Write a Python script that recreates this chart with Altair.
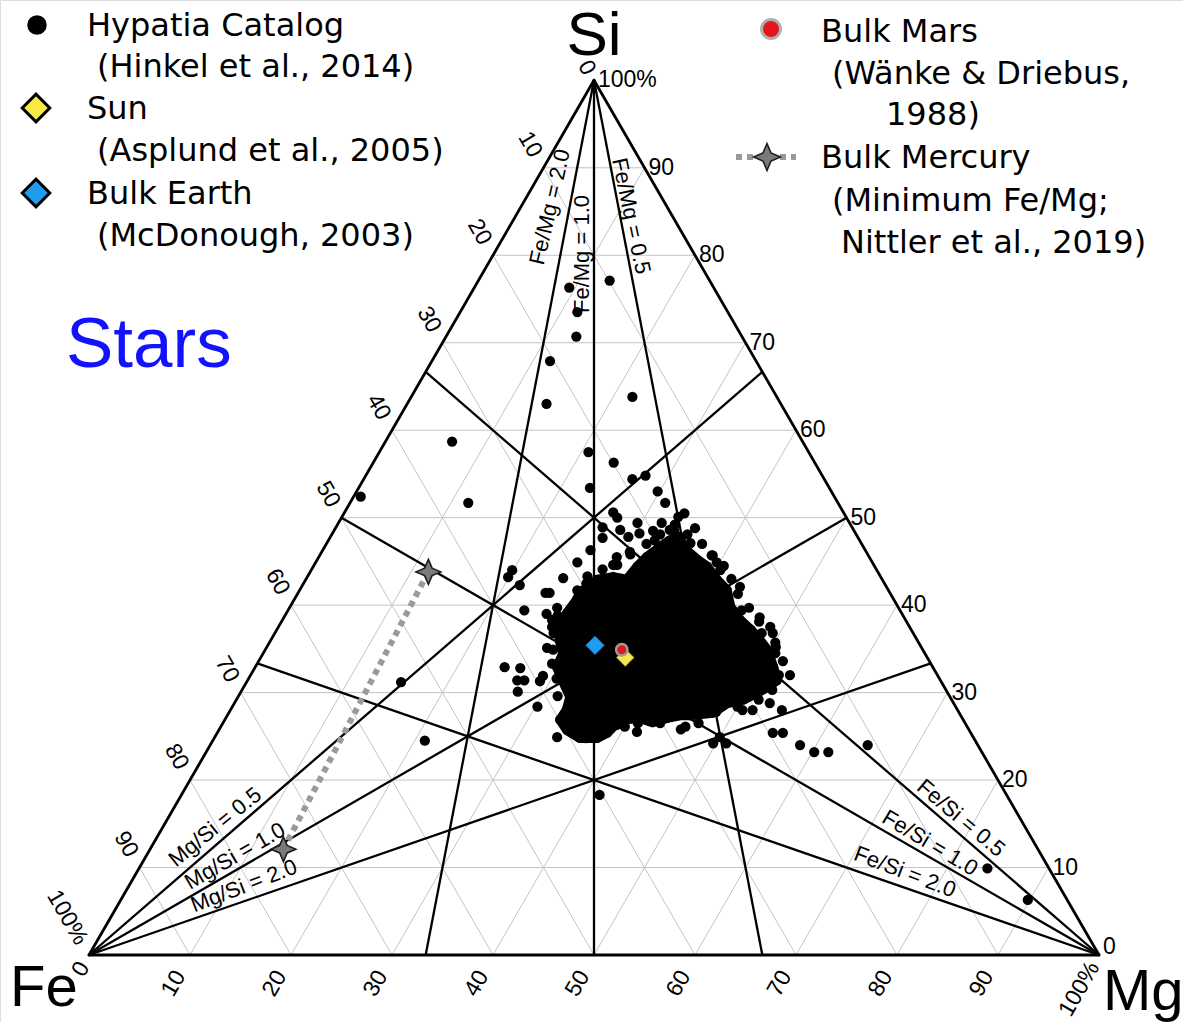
import altair as alt
import pandas as pd
import numpy as np

# ---------------- data (molar %, Fe = 100 - Mg - Si) ----------------
# Hypatia Catalog stars
hyp_mg = [9.4, 13.0, 11.6, 12.9, 11.7, 13.8, 21.9, 6.6, 0.7, 11.7, 20.7, 22.9, 15.3, 21.0, 41.4, 65.1, 84.0, 89.8, 58.4, 60.2, 61.6,
          23.8, 26.6, 27.7, 29.8, 31.2, 33.3, 33.7, 26.6, 27.3, 26.4, 27.0, 28.3, 29.5, 29.6, 30.4, 31.6, 32.3, 33.2,
          26.5, 29.5, 29.6, 30.5, 25.9, 19.9, 19.9, 21.5, 25.4, 24.5, 24.9, 28.0, 23.4, 26.5, 28.4, 26.7, 27.1,
          24.7, 26.3, 26.7, 27.4, 29.0, 29.0, 27.4, 28.5, 30.2, 33.9, 40.0, 41.5, 46.0, 49.7, 50.0, 51.0, 50.7,
          51.7, 53.0, 54.6, 55.0, 56.0, 36.0, 38.8, 39.7, 40.5, 43.4, 44.9, 47.1, 48.7, 48.2, 50.1, 50.7, 53.4,
          28.0, 27.0, 25.8, 27.6, 27.8, 29.2, 30.5, 31.6, 33.5, 34.9, 36.8, 38.2, 39.1, 41.1, 43.3, 45.7, 47.1,
          48.2, 50.0, 51.7, 52.5, 52.3, 51.9, 50.4, 49.3, 47.3, 45.5, 43.6, 42.1, 40.6, 38.9, 37.2, 35.2, 33.7,
          32.5, 31.7, 30.7, 30.0, 28.8, 27.7, 27.5, 32.0, 33.4, 35.6]
hyp_si = [76.3, 77.1, 73.5, 70.7, 67.9, 63.0, 63.8, 58.7, 52.4, 51.7, 57.5, 53.4, 31.2, 24.5, 18.3, 24.0, 9.9, 6.3, 24.0, 23.2, 23.2,
          56.3, 54.4, 54.8, 53.0, 51.7, 50.1, 50.5, 50.6, 50.0, 48.9, 47.7, 48.6, 47.8, 49.4, 48.2, 48.5, 47.4, 48.6,
          46.3, 45.5, 44.6, 46.1, 44.9, 44.0, 43.2, 42.3, 43.1, 41.4, 41.4, 42.5, 39.4, 39.7, 39.1, 38.3, 37.5,
          32.9, 32.8, 31.4, 31.4, 31.3, 31.9, 30.1, 34.9, 28.4, 24.9, 26.1, 25.5, 26.1, 24.2, 24.9, 24.2, 28.0,
          28.0, 28.8, 28.0, 25.4, 25.4, 47.1, 45.7, 44.9, 44.0, 42.1, 39.4, 38.6, 37.5, 36.8, 35.7, 34.5, 32.0,
          40.0, 38.8, 39.0, 36.8, 35.1, 33.3, 31.6, 29.6, 27.2, 25.6, 24.8, 25.5, 26.3, 26.5, 26.5, 25.8, 26.5,
          27.8, 28.4, 29.2, 30.3, 32.0, 33.6, 35.2, 36.8, 38.1, 39.7, 41.3, 43.0, 44.5, 45.7, 47.0, 48.1, 48.5,
          48.1, 47.0, 45.8, 44.6, 44.1, 43.3, 41.7, 49.4, 49.2, 48.8]
# outline of the densely packed core of the Hypatia cloud
core_mg = [28.0, 27.9, 28.9, 30.3, 31.8, 32.1, 32.5, 33.2, 33.8, 34.6, 35.5, 37.6, 39.0, 40.7, 42.3, 43.6, 45.3, 46.9,
           48.4, 49.7, 51.3, 52.4, 51.8, 51.2, 50.2, 48.8, 47.9, 45.8, 44.8, 43.7, 42.5, 41.0, 39.1, 38.6, 37.9, 36.2,
           34.5, 33.2, 33.3, 32.9, 31.2, 29.9, 29.7, 28.6, 27.6, 27.8]
core_si = [40.6, 41.4, 42.9, 43.2, 42.9, 44.4, 45.5, 46.6, 47.4, 47.8, 46.6, 45.2, 44.4, 42.9, 41.7, 39.8, 38.3, 37.2,
           36.0, 34.9, 32.9, 31.4, 30.6, 30.0, 29.2, 28.8, 27.7, 27.4, 27.4, 27.1, 26.6, 27.1, 26.9, 25.4, 24.8, 24.8,
           25.7, 26.9, 28.0, 29.5, 31.4, 32.9, 34.5, 36.0, 38.0, 39.1]
sun_mg, sun_si = 36.1, 34.0
earth_mg, earth_si = 32.4, 35.4
mars_mg, mars_si = 35.3, 34.9
mercury_mg = [11.7, 13.2]
mercury_si = [43.8, 12.1]
ticks = [0, 10, 20, 30, 40, 50, 60, 70, 80, 90, 100]
ratios = [0.5, 1.0, 2.0]

# ---------------- geometry ----------------
W, H = 1183, 1022
OX, OY, K = 89.0, 955.0, 10.1   # Fe corner in pixels, pixels per %
R3 = np.sqrt(3) / 2


def tx(mg, si):
    return np.asarray(mg, dtype=float) + np.asarray(si, dtype=float) / 2


def ty(si):
    return np.asarray(si, dtype=float) * R3


def pdx(px):
    return (px - OX) / K


def pdy(py):
    return (OY - py) / K


xs = alt.Scale(domain=[pdx(0), pdx(W)], nice=False, zero=False)
ys = alt.Scale(domain=[pdy(H), pdy(0)], nice=False, zero=False)


def X(f="x"):
    return alt.X(f"{f}:Q", scale=xs, axis=None)


def Y(f="y"):
    return alt.Y(f"{f}:Q", scale=ys, axis=None)


def seg_rows(pairs):
    rows = []
    for (m1, s1), (m2, s2) in pairs:
        rows.append({"x": float(tx(m1, s1)), "y": float(ty(s1)), "x2": float(tx(m2, s2)), "y2": float(ty(s2))})
    return pd.DataFrame(rows)


# grid lines every 10 %
gpairs = []
for k in ticks[1:-1]:
    gpairs.append(((0, k), (100 - k, k)))          # Si = k
    gpairs.append(((k, 0), (k, 100 - k)))          # Mg = k
    gpairs.append(((100 - k, 0), (0, 100 - k)))    # Fe = k
grid_df = seg_rows(gpairs)

# ratio lines
rpairs = []
for r in ratios:
    rpairs.append(((0, 100), (100 / (1 + r), 0)))                    # Fe/Mg = r
    rpairs.append(((0, 0), (100 * r / (1 + r), 100 / (1 + r))))      # Mg/Si = r
    rpairs.append(((100, 0), (0, 100 / (1 + r))))                    # Fe/Si = r
ratio_df = seg_rows(rpairs)

edge_df = seg_rows([((0, 0), (100, 0)), ((0, 0), (0, 100)), ((100, 0), (0, 100))])

grid = alt.Chart(grid_df).mark_rule(color="#c4c4c4", strokeWidth=1).encode(
    x=X(), y=Y(), x2="x2:Q", y2="y2:Q")
ratio_lines = alt.Chart(ratio_df).mark_rule(color="black", strokeWidth=2.3).encode(
    x=X(), y=Y(), x2="x2:Q", y2="y2:Q")
edges = alt.Chart(edge_df).mark_rule(color="black", strokeWidth=2.8, strokeCap="round").encode(
    x=X(), y=Y(), x2="x2:Q", y2="y2:Q")

# Hypatia cloud
core_df = pd.DataFrame({"x": tx(core_mg, core_si), "y": ty(core_si), "i": range(len(core_mg))})
core_closed = pd.concat([core_df, core_df.iloc[[0]].assign(i=len(core_mg))], ignore_index=True)
core = alt.Chart(core_closed).mark_line(
    filled=True, fill="black", stroke="black", strokeWidth=10, strokeJoin="round", opacity=1
).encode(x=X(), y=Y(), order=alt.Order("i:Q"))
core_pts = alt.Chart(core_df).mark_circle(color="black", size=100, opacity=1).encode(x=X(), y=Y())
hyp_df = pd.DataFrame({"x": tx(hyp_mg, hyp_si), "y": ty(hyp_si)})
hyp = alt.Chart(hyp_df).mark_circle(color="black", size=105, opacity=1).encode(x=X(), y=Y())

STAR = "M0,-1L0.3,-0.3L1,0L0.3,0.3L0,1L-0.3,0.3L-1,0L-0.3,-0.3Z"

merc_df = pd.DataFrame({"x": tx(mercury_mg, mercury_si), "y": ty(mercury_si), "i": [0, 1]})
merc_line = alt.Chart(merc_df).mark_line(color="#9a9a9a", strokeWidth=6, strokeDash=[6, 5]).encode(
    x=X(), y=Y(), order=alt.Order("i:Q"))
merc_pts = alt.Chart(merc_df).mark_point(shape=STAR, size=620, filled=True, fill="#7a7a7a",
                                         stroke="#1e1e1e", strokeWidth=1.6, opacity=1).encode(x=X(), y=Y())

earth = alt.Chart(pd.DataFrame({"x": [float(tx(earth_mg, earth_si))], "y": [float(ty(earth_si))]})).mark_point(
    shape="diamond", size=340, filled=True, fill="#1f9cf0", stroke="#1f9cf0", strokeWidth=0.5, opacity=1
).encode(x=X(), y=Y())
sun = alt.Chart(pd.DataFrame({"x": [float(tx(sun_mg, sun_si))], "y": [float(ty(sun_si))]})).mark_point(
    shape="diamond", size=300, filled=True, fill="#f6e64a", stroke="#b9a830", strokeWidth=0.8, opacity=1
).encode(x=X(), y=Y())
mars = alt.Chart(pd.DataFrame({"x": [float(tx(mars_mg, mars_si))], "y": [float(ty(mars_si))]})).mark_point(
    shape="circle", size=130, filled=True, fill="#e4161c", stroke="#9c9c9c", strokeWidth=2.5, opacity=1
).encode(x=X(), y=Y())

# ---------------- tick labels ----------------
def lab(v):
    return "100%" if v == 100 else str(v)


left_rows, bottom_rows, right_rows = [], [], []
for v in ticks:
    ul = (8 if v == 0 else 14) / K            # gap between left edge and label
    ub = (10 if v in (0, 100) else 20) / K    # gap between bottom edge and label
    # left edge: Fe = v  (Mg = 0, Si = 100 - v)
    ex, ey = float(tx(0, 100 - v)), float(ty(100 - v))
    left_rows.append({"x": ex - 0.5 * ul, "y": ey + R3 * ul, "t": lab(v)})
    # bottom edge: Mg = v (Si = 0)
    bx, by = float(tx(v, 0)), 0.0
    bottom_rows.append({"x": bx - 0.5 * ub, "y": by - R3 * ub, "t": lab(v)})
    # right edge: Si = v (Fe = 0, Mg = 100 - v)
    rx, ry = float(tx(100 - v, v)), float(ty(v))
    right_rows.append({"x": rx + 4 / K, "y": ry + (8 / K if v == 0 else 0), "t": lab(v)})

tick_font = dict(font="Liberation Sans", fontSize=23, color="black")
left_lab = alt.Chart(pd.DataFrame(left_rows)).mark_text(
    angle=60, align="right", baseline="middle", **tick_font).encode(x=X(), y=Y(), text="t:N")
bottom_lab = alt.Chart(pd.DataFrame(bottom_rows)).mark_text(
    angle=300, align="right", baseline="middle", **tick_font).encode(x=X(), y=Y(), text="t:N")
right_lab = alt.Chart(pd.DataFrame(right_rows)).mark_text(
    angle=0, align="left", baseline="middle", **tick_font).encode(x=X(), y=Y(), text="t:N")

# ---------------- ratio line labels ----------------
rl = [("Fe/Mg = 2.0", 550, 207, 283), ("Fe/Mg = 1.0", 582, 254, 270), ("Fe/Mg = 0.5", 631, 216, 78),
      ("Mg/Si = 0.5", 215, 827, 321), ("Mg/Si = 1.0", 235, 856, 330), ("Mg/Si = 2.0", 244, 886, 339),
      ("Fe/Si = 0.5", 961, 818, 40), ("Fe/Si = 1.0", 930, 843, 31), ("Fe/Si = 2.0", 905, 872, 21)]
rl_df = pd.DataFrame([{"t": t, "x": pdx(a), "y": pdy(b), "ang": g} for t, a, b, g in rl])
ratio_lab = alt.Chart(rl_df).mark_text(font="Liberation Sans", fontSize=22, color="black",
                                       align="center", baseline="middle").encode(
    x=X(), y=Y(), text="t:N", angle=alt.Angle("ang:Q", scale=None))

# ---------------- legend & titles ----------------
leg_text = [("Hypatia Catalog", 87, 36), ("(Hinkel et al., 2014)", 97, 77), ("Sun", 87, 119),
            ("(Asplund et al., 2005)", 97, 161), ("Bulk Earth", 87, 204), ("(McDonough, 2003)", 97, 246),
            ("Bulk Mars", 821, 42), ("(Wänke & Driebus,", 832, 84), ("1988)", 886, 125),
            ("Bulk Mercury", 821, 168), ("(Minimum Fe/Mg;", 832, 211), ("Nittler et al., 2019)", 841, 253)]
leg_df = pd.DataFrame([{"t": t, "x": pdx(a), "y": pdy(b)} for t, a, b in leg_text])
legend_txt = alt.Chart(leg_df).mark_text(font="DejaVu Sans", fontSize=32, color="black",
                                         align="left", baseline="alphabetic").encode(x=X(), y=Y(), text="t:N")


def one(px, py):
    return pd.DataFrame({"x": [pdx(px)], "y": [pdy(py)]})


leg_hyp = alt.Chart(one(37, 25)).mark_circle(color="black", size=380, opacity=1).encode(x=X(), y=Y())
leg_sun = alt.Chart(one(36, 108)).mark_point(shape="diamond", size=760, filled=True, fill="#f7ea48",
                                             stroke="black", strokeWidth=3, opacity=1).encode(x=X(), y=Y())
leg_earth = alt.Chart(one(36, 193)).mark_point(shape="diamond", size=760, filled=True, fill="#1f9cf0",
                                               stroke="black", strokeWidth=3, opacity=1).encode(x=X(), y=Y())
leg_mars = alt.Chart(one(771, 29)).mark_point(shape="circle", size=360, filled=True, fill="#e4161c",
                                              stroke="#b0b0b0", strokeWidth=3, opacity=1).encode(x=X(), y=Y())
leg_mline = alt.Chart(pd.DataFrame({"x": [pdx(736)], "y": [pdy(157)], "x2": [pdx(796)], "y2": [pdy(157)]})).mark_rule(
    color="#9a9a9a", strokeWidth=6, strokeDash=[6, 5]).encode(x=X(), y=Y(), x2="x2:Q", y2="y2:Q")
leg_mstar = alt.Chart(one(767, 157)).mark_point(shape=STAR, size=720, filled=True, fill="#7a7a7a",
                                                stroke="#1e1e1e", strokeWidth=1.6, opacity=1).encode(x=X(), y=Y())

si_t = alt.Chart(one(594, 55).assign(t="Si")).mark_text(font="Liberation Sans", fontSize=62, color="black",
                                                        align="center", baseline="alphabetic").encode(x=X(), y=Y(), text="t:N")
fe_t = alt.Chart(one(10, 1006).assign(t="Fe")).mark_text(font="Liberation Sans", fontSize=58, color="black",
                                                         align="left", baseline="alphabetic").encode(x=X(), y=Y(), text="t:N")
mg_t = alt.Chart(one(1103, 1010).assign(t="Mg")).mark_text(font="Liberation Sans", fontSize=58, color="black",
                                                           align="left", baseline="alphabetic").encode(x=X(), y=Y(), text="t:N")
stars_t = alt.Chart(one(66, 367).assign(t="Stars")).mark_text(font="Liberation Sans", fontSize=71, color="#1212ff",
                                                              align="left", baseline="alphabetic").encode(x=X(), y=Y(), text="t:N")

chart = alt.layer(
    grid, ratio_lines, edges, core, core_pts, hyp, merc_line, merc_pts, earth, sun, mars,
    left_lab, bottom_lab, right_lab, ratio_lab,
    legend_txt, leg_hyp, leg_sun, leg_earth, leg_mars, leg_mline, leg_mstar,
    si_t, fe_t, mg_t, stars_t,
).properties(
    width=W, height=H, padding=0,
    autosize=alt.AutoSizeParams(type="none"),
).configure_view(stroke=None).configure(background="white")

chart.save("out.html", embed_options={"renderer": "svg", "actions": False})
